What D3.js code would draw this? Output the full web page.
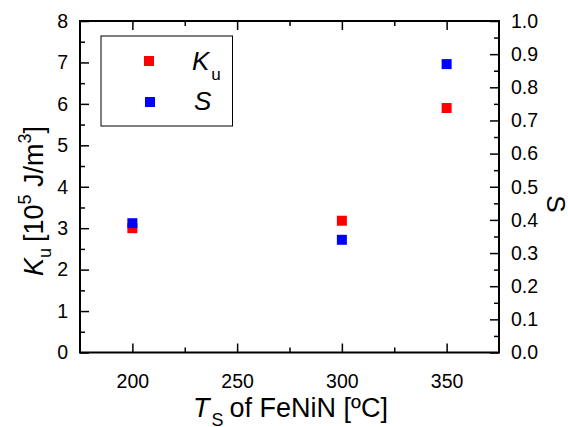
<!DOCTYPE html>
<html><head><meta charset="utf-8">
<script src="https://cdn.jsdelivr.net/npm/d3@7"></script>
<style>body{margin:0;background:#fff}svg{display:block}text{font-family:"Liberation Sans",Arial,sans-serif;fill:#000}</style>
</head><body><svg id="c" width="568" height="427"></svg>
<script>
const temps = [200, 300, 350];
const kuValues = [3.0, 3.18, 5.9];
const sValues = [0.39, 0.34, 0.87];
const xTicks = [200, 250, 300, 350];
const xMinor = [225, 275, 325];
const kuTicks = [0,1,2,3,4,5,6,7,8];
const sTicks = [0,0.1,0.2,0.3,0.4,0.5,0.6,0.7,0.8,0.9,1.0];

const svg = d3.select("#c");
const L=80, R=499, T=21, B=352.5;
const x = d3.scaleLinear().domain([175,375]).range([L,R]);
const yK = d3.scaleLinear().domain([0,8]).range([B,T]);
const yS = d3.scaleLinear().domain([0,1]).range([B,T]);

const g = svg.append("g");
function style(sel){ sel.select(".domain").remove(); sel.selectAll("line").attr("stroke","#000").attr("stroke-width",1.5); sel.selectAll("text").attr("font-size",19.5).attr("font-family","Liberation Sans, Arial, sans-serif"); }

// bottom
g.append("g").attr("transform",`translate(0,${B})`).call(d3.axisBottom(x).tickValues(xTicks).tickSizeInner(-9).tickSizeOuter(0).tickPadding(22)).call(style);
g.append("g").attr("transform",`translate(0,${B})`).call(d3.axisBottom(x).tickValues(xMinor).tickSizeInner(-5).tickSizeOuter(0).tickFormat("")).call(style);
// top
g.append("g").attr("transform",`translate(0,${T})`).call(d3.axisTop(x).tickValues(xTicks).tickSizeInner(-9).tickSizeOuter(0).tickFormat("")).call(style);
g.append("g").attr("transform",`translate(0,${T})`).call(d3.axisTop(x).tickValues(xMinor).tickSizeInner(-5).tickSizeOuter(0).tickFormat("")).call(style);
// left
g.append("g").attr("transform",`translate(${L},0)`).call(d3.axisLeft(yK).tickValues(kuTicks).tickSizeInner(-9).tickSizeOuter(0).tickPadding(12).tickFormat(d3.format("d"))).call(style);
g.append("g").attr("transform",`translate(${L},0)`).call(d3.axisLeft(yK).tickValues(d3.range(0.5,8,1)).tickSizeInner(-5).tickSizeOuter(0).tickFormat("")).call(style);
// right
g.append("g").attr("transform",`translate(${R},0)`).call(d3.axisRight(yS).tickValues(sTicks).tickSizeInner(-9).tickSizeOuter(0).tickPadding(12).tickFormat(d3.format(".1f"))).call(style);
g.append("g").attr("transform",`translate(${R},0)`).call(d3.axisRight(yS).tickValues(d3.range(0.05,1,0.1)).tickSizeInner(-5).tickSizeOuter(0).tickFormat("")).call(style);

// frame
g.append("rect").attr("x",L).attr("y",T).attr("width",R-L).attr("height",B-T).attr("fill","none").attr("stroke","#000").attr("stroke-width",2);

const ms=10;
svg.append("g").selectAll("rect").data(temps.map((t,i)=>({t,v:kuValues[i]}))).join("rect")
 .attr("x",d=>x(d.t)-ms/2).attr("y",d=>yK(d.v)-ms/2).attr("width",ms).attr("height",ms).attr("fill","#ff0000");
svg.append("g").selectAll("rect").data(temps.map((t,i)=>({t,v:sValues[i]}))).join("rect")
 .attr("x",d=>x(d.t)-ms/2).attr("y",d=>yS(d.v)-ms/2).attr("width",ms).attr("height",ms).attr("fill","#0000ff");

// legend
svg.append("rect").attr("x",101).attr("y",36).attr("width",131.5).attr("height",90).attr("fill","#fff").attr("stroke","#000").attr("stroke-width",1);
svg.append("rect").attr("x",144).attr("y",56).attr("width",ms).attr("height",ms).attr("fill","#ff0000");
svg.append("rect").attr("x",145).attr("y",97).attr("width",ms).attr("height",ms).attr("fill","#0000ff");
const lk = svg.append("text").attr("x",192).attr("y",70).attr("font-size",26);
lk.append("tspan").attr("font-style","italic").text("K");
lk.append("tspan").attr("font-size",17).attr("dy",10).attr("dx",2).text("u");
svg.append("text").attr("x",194).attr("y",110).attr("font-size",26).attr("font-style","italic").text("S");

// x title
const xt = svg.append("text").attr("x",193).attr("y",417).attr("font-size",27);
xt.append("tspan").attr("font-style","italic").text("T");
xt.append("tspan").attr("font-size",18).attr("dy",9).attr("dx",2).text("S");
xt.append("tspan").attr("dy",-9).attr("dx",6).text("of FeNiN [ºC]");

// y title left
const yt = svg.append("text").attr("transform","translate(43,201) rotate(-90)").attr("text-anchor","middle").attr("font-size",27);
yt.append("tspan").attr("font-style","italic").text("K");
yt.append("tspan").attr("font-size",18).attr("dy",8).text("u");
yt.append("tspan").attr("dy",-8).attr("dx",6).text("[10");
yt.append("tspan").attr("font-size",18).attr("dy",-12).text("5");
yt.append("tspan").attr("dy",12).text(" J/m");
yt.append("tspan").attr("font-size",18).attr("dy",-12).text("3");
yt.append("tspan").attr("dy",12).text("]");

// right title
svg.append("text").attr("transform","translate(547,204) rotate(90)").attr("text-anchor","middle").attr("font-size",26).text("S");
</script></body></html>
